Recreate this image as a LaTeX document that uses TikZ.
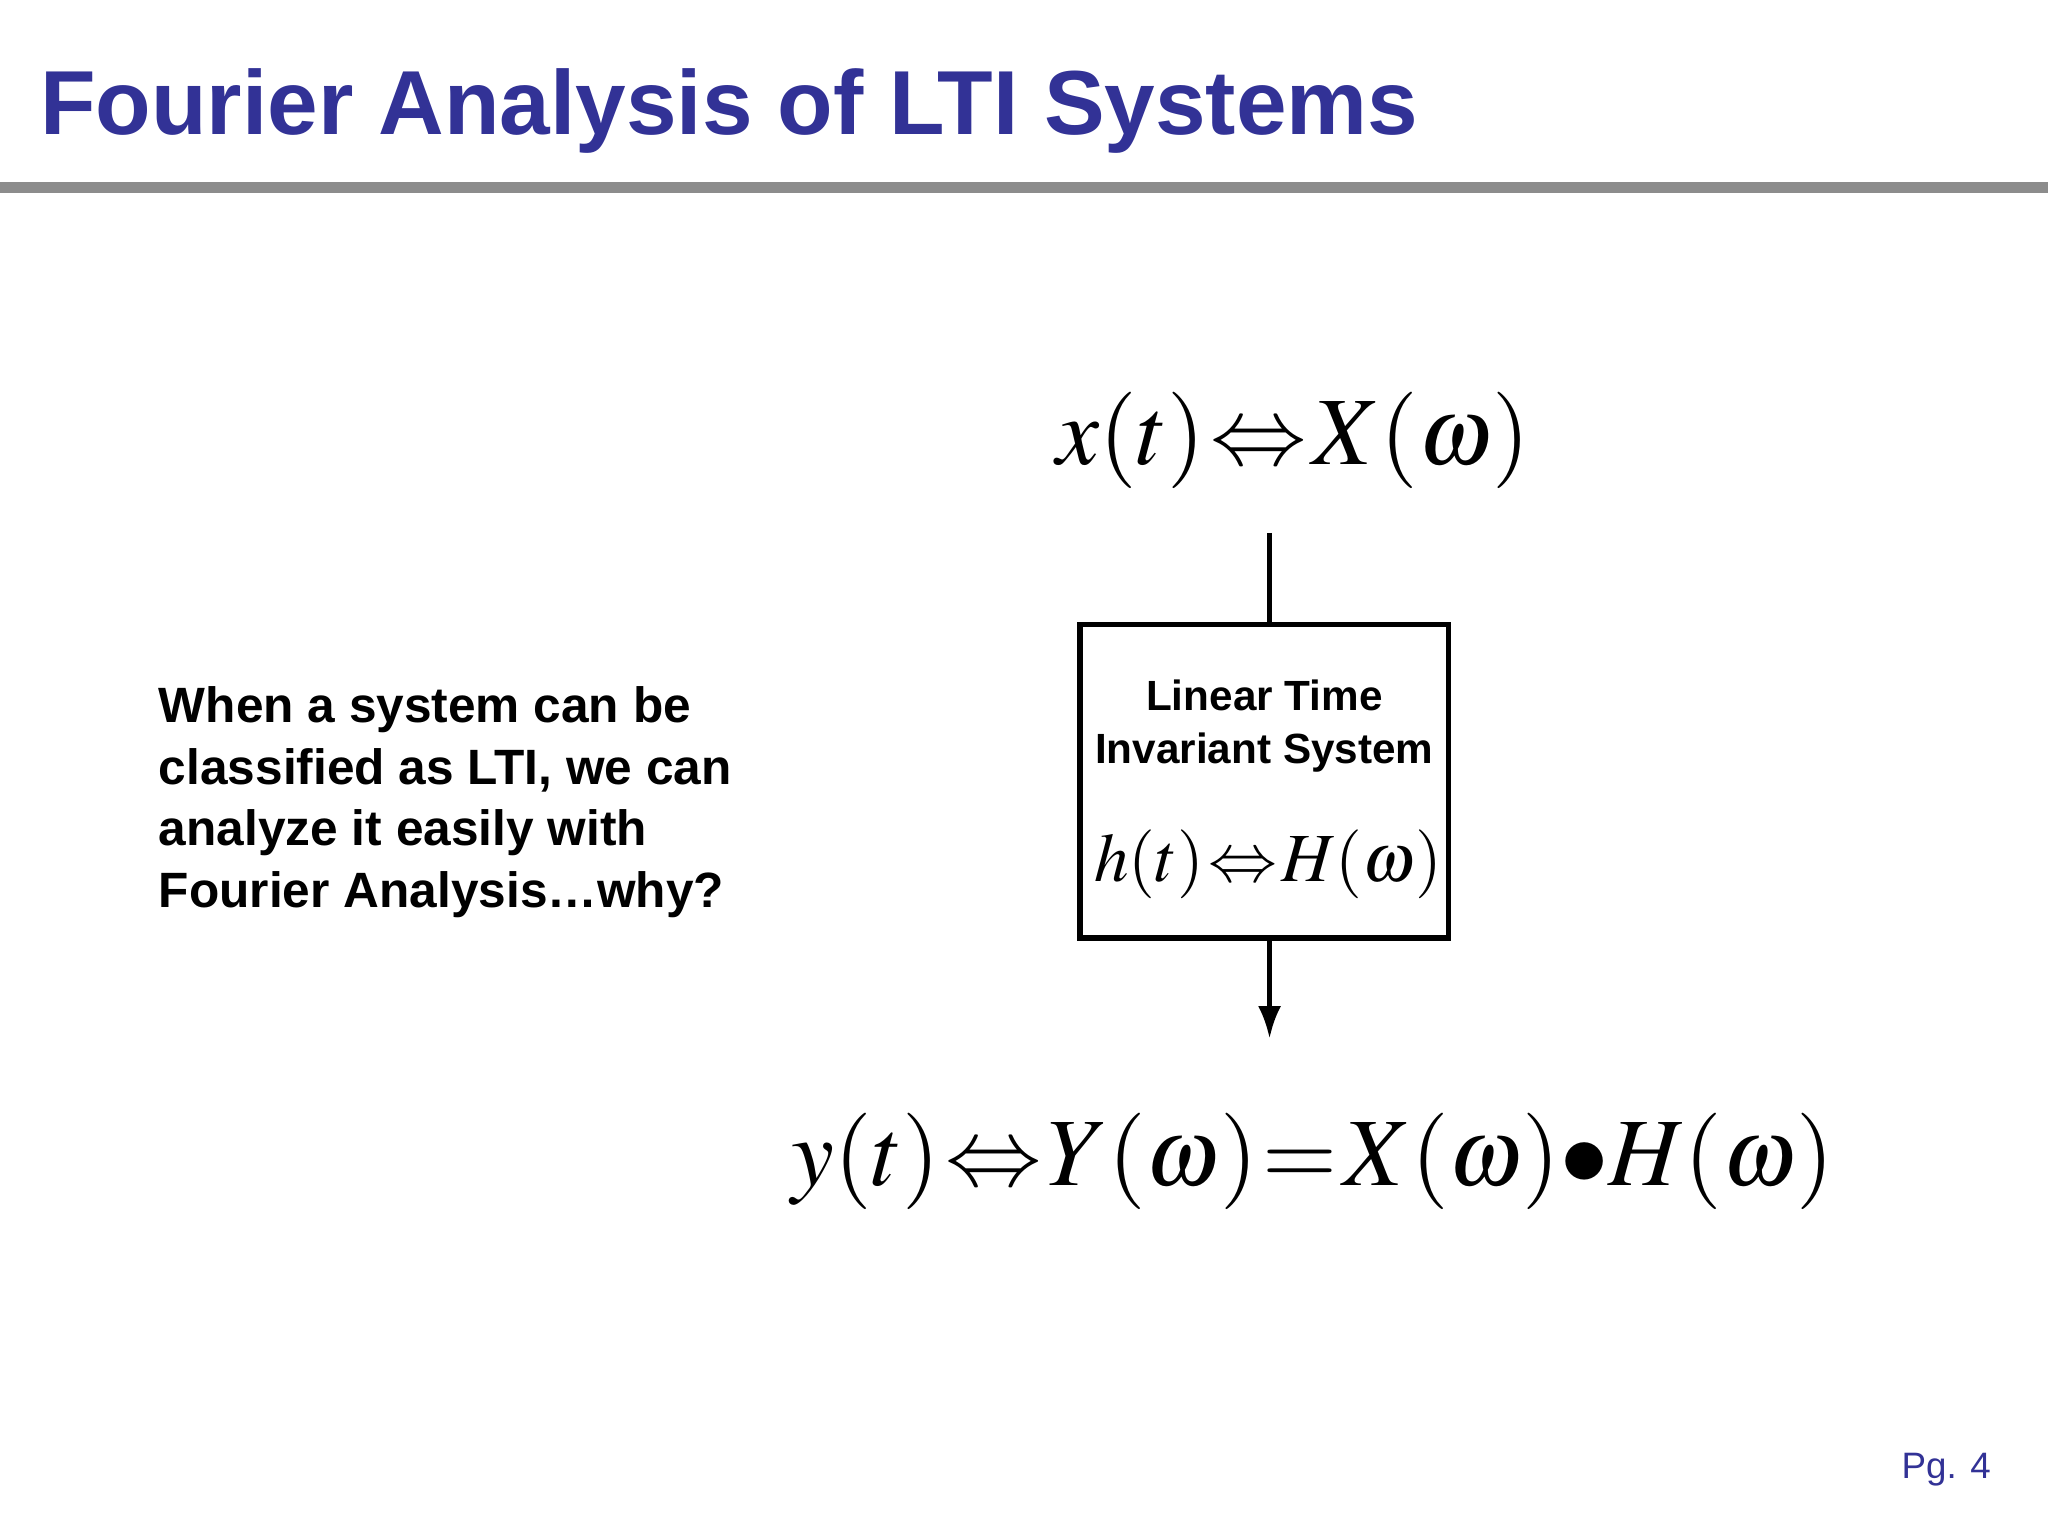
\documentclass[tikz,border=0pt]{standalone}
\usetikzlibrary{arrows.meta}
\usepackage{mathptmx}
\usepackage{fontspec}
\setmainfont{Liberation Sans}
\definecolor{titleblue}{RGB}{50,50,150}
\begin{document}
\begin{tikzpicture}[x=0.01cm,y=-0.01cm,
  bodytxt/.style={font=\fontsize{10.8}{13.4}\selectfont\bfseries,align=left,inner sep=0},
  eq/.style={inner sep=0,execute at begin node={\thickmuskip=1mu\medmuskip=0mu}}]
\useasboundingbox[fill=white] (0,0) rectangle (1568,1176);
\node[anchor=base west,text=titleblue,inner sep=0,font=\fontsize{19.8}{24}\selectfont\bfseries] (title) at (30,103) {Fourier Analysis of LTI Systems};
\fill[gray!90] (0,139) rectangle (1568,148);
\node[bodytxt,anchor=north west] (txt) at (121,525) {When a system can be\\classified as LTI, we can\\analyze it easily with\\Fourier Analysis\ldots why?};
\node[eq,font=\fontsize{21}{24}\selectfont] (x) at (990,337) {$x(t)\Leftrightarrow X(\omega)$};
\node[draw,line width=1.2pt,minimum width=282*0.01cm,minimum height=240*0.01cm,inner sep=0] (box) at (968,598) {};
\node[font=\fontsize{9.2}{11.5}\selectfont\bfseries,align=center,inner sep=0] (lab) at (968,556) {Linear Time\\Invariant System};
\node[eq,font=\fontsize{15}{18}\selectfont] (h) at (971,662) {$h(t)\Leftrightarrow H(\omega)$};
\coordinate (top) at (972,408);
\coordinate (bot) at (972,795);
\draw[line width=1pt] (top) -- (top|-box.north);
\draw[line width=1pt,-{Latex[length=7pt,width=5pt]}] (bot|-box.south) -- (bot);
\node[eq,font=\fontsize{21}{26}\selectfont] (y) at (1005,889) {$y(t)\Leftrightarrow Y(\omega)=X(\omega)\bullet H(\omega)$};
\node[anchor=base east,text=titleblue,inner sep=0,font=\fontsize{8}{10}\selectfont] (pg) at (1525,1132) {Pg. 4};
\end{tikzpicture}
\end{document}
